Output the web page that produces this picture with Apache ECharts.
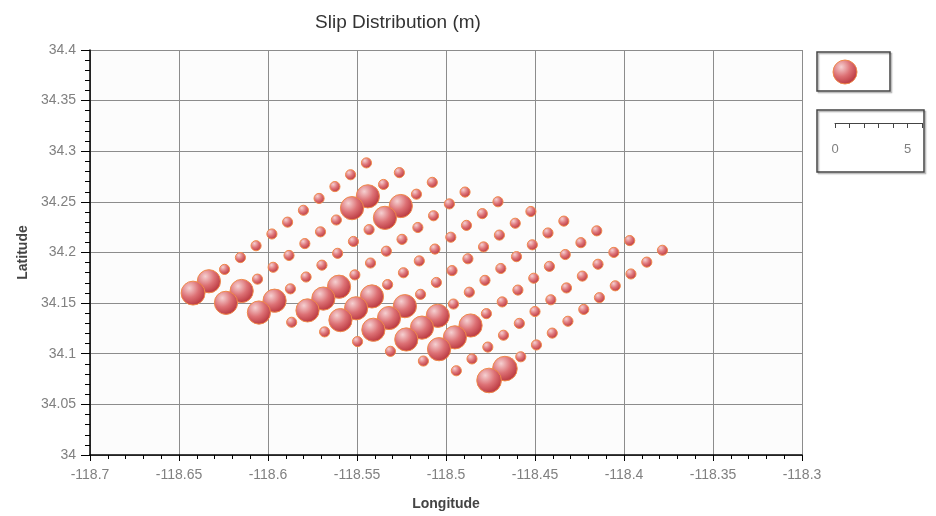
<!DOCTYPE html>
<html>
<head>
<meta charset="utf-8">
<title>Slip Distribution</title>
<script src="https://cdn.jsdelivr.net/npm/echarts@6/dist/echarts.min.js"></script>
</head>
<body style="margin:0">
<div id="main" style="width:936px;height:516px;"></div>
<script>
// axis ranges
var lonMin = -118.7, lonMax = -118.3, latMin = 34, latMax = 34.4, tickStep = 0.05;
var rulerTicks = [0, 5];

// fault patches, one row per down-dip step (12 patches along strike)
var lonRows = [
  [-118.6421, -118.6332, -118.6244, -118.6155, -118.6067, -118.5978, -118.5890, -118.5801, -118.5713, -118.5624, -118.5536, -118.5447],
  [-118.6236, -118.6148, -118.6059, -118.5971, -118.5882, -118.5793, -118.5705, -118.5616, -118.5528, -118.5439, -118.5351, -118.5262],
  [-118.6051, -118.5963, -118.5874, -118.5786, -118.5697, -118.5609, -118.5520, -118.5432, -118.5343, -118.5254, -118.5166, -118.5077],
  [-118.5867, -118.5778, -118.5689, -118.5601, -118.5512, -118.5424, -118.5335, -118.5247, -118.5158, -118.5070, -118.4981, -118.4893],
  [-118.5682, -118.5593, -118.5505, -118.5416, -118.5328, -118.5239, -118.5150, -118.5062, -118.4973, -118.4885, -118.4796, -118.4708],
  [-118.5497, -118.5408, -118.5320, -118.5231, -118.5143, -118.5054, -118.4966, -118.4877, -118.4789, -118.4700, -118.4611, -118.4523],
  [-118.5312, -118.5223, -118.5135, -118.5046, -118.4958, -118.4869, -118.4781, -118.4692, -118.4604, -118.4515, -118.4427, -118.4338],
  [-118.5127, -118.5039, -118.4950, -118.4862, -118.4773, -118.4684, -118.4596, -118.4507, -118.4419, -118.4330, -118.4242, -118.4153],
  [-118.4942, -118.4854, -118.4765, -118.4677, -118.4588, -118.4500, -118.4411, -118.4323, -118.4234, -118.4146, -118.4057, -118.3968],
  [-118.4758, -118.4669, -118.4580, -118.4492, -118.4403, -118.4315, -118.4226, -118.4138, -118.4049, -118.3961, -118.3872, -118.3784]
];
var latRows = [
  [34.1599, 34.1716, 34.1833, 34.1950, 34.2067, 34.2183, 34.2300, 34.2417, 34.2534, 34.2651, 34.2768, 34.2885],
  [34.1503, 34.1620, 34.1737, 34.1854, 34.1971, 34.2088, 34.2204, 34.2321, 34.2438, 34.2555, 34.2672, 34.2789],
  [34.1407, 34.1524, 34.1641, 34.1758, 34.1875, 34.1992, 34.2109, 34.2226, 34.2342, 34.2459, 34.2576, 34.2693],
  [34.1311, 34.1428, 34.1545, 34.1662, 34.1779, 34.1896, 34.2013, 34.2130, 34.2247, 34.2363, 34.2480, 34.2597],
  [34.1216, 34.1332, 34.1449, 34.1566, 34.1683, 34.1800, 34.1917, 34.2034, 34.2151, 34.2268, 34.2384, 34.2501],
  [34.1120, 34.1237, 34.1353, 34.1470, 34.1587, 34.1704, 34.1821, 34.1938, 34.2055, 34.2172, 34.2289, 34.2405],
  [34.1024, 34.1141, 34.1258, 34.1375, 34.1491, 34.1608, 34.1725, 34.1842, 34.1959, 34.2076, 34.2193, 34.2310],
  [34.0928, 34.1045, 34.1162, 34.1279, 34.1396, 34.1512, 34.1629, 34.1746, 34.1863, 34.1980, 34.2097, 34.2214],
  [34.0832, 34.0949, 34.1066, 34.1183, 34.1300, 34.1417, 34.1533, 34.1650, 34.1767, 34.1884, 34.2001, 34.2118],
  [34.0736, 34.0853, 34.0970, 34.1087, 34.1204, 34.1321, 34.1438, 34.1554, 34.1671, 34.1788, 34.1905, 34.2022]
];
var slipRows = [
  [1.65, 1.6, 0.7, 0.7, 0.7, 0.7, 0.7, 0.7, 0.7, 0.7, 0.7, 0.7],
  [1.6, 1.6, 0.7, 0.7, 0.7, 0.7, 0.7, 0.7, 1.6, 1.6, 0.7, 0.7],
  [1.6, 1.6, 0.7, 0.7, 0.7, 0.7, 0.7, 0.7, 1.6, 1.6, 0.7, 0.7],
  [0.7, 1.6, 1.6, 1.6, 0.7, 0.7, 0.7, 0.7, 0.7, 0.7, 0.7, 0.7],
  [0.7, 1.6, 1.6, 1.6, 0.7, 0.7, 0.7, 0.7, 0.7, 0.7, 0.7, 0.7],
  [0.7, 1.6, 1.6, 1.6, 0.7, 0.7, 0.7, 0.7, 0.7, 0.7, 0.7, 0.7],
  [0.7, 1.6, 1.6, 1.6, 0.7, 0.7, 0.7, 0.7, 0.7, 0.7, 0.7, 0.7],
  [0.7, 1.6, 1.6, 1.6, 0.7, 0.7, 0.7, 0.7, 0.7, 0.7, 0.7, 0.7],
  [0.7, 0.7, 0.7, 0.7, 0.7, 0.7, 0.7, 0.7, 0.7, 0.7, 0.7, 0.7],
  [1.7, 1.7, 0.7, 0.7, 0.7, 0.7, 0.7, 0.7, 0.7, 0.7, 0.7, 0.7]
];

var pxPerMetre = 14.5; // bubble diameter per metre of slip (same as ruler)

var data = [];
for (var j = 0; j < slipRows.length; j++) {
  for (var i = slipRows[j].length - 1; i >= 0; i--) {
    data.push([lonRows[j][i], latRows[j][i], slipRows[j][i]]);
  }
}

var ballFill = {
  type: 'radial', x: 0.35, y: 0.3, r: 0.75,
  colorStops: [
    { offset: 0, color: '#f5d0d1' },
    { offset: 0.5, color: '#dd7175' },
    { offset: 1, color: '#b7323a' }
  ]
};

var fmt = function (v) { return String(parseFloat(v.toFixed(2))); };

var myChart = echarts.init(document.getElementById('main'));
var option = {
  backgroundColor: '#ffffff',
  textStyle: { fontFamily: 'Liberation Sans, Arial, sans-serif' },
  title: {
    text: 'Slip Distribution (m)',
    left: 393, top: 8, textAlign: 'center',
    textStyle: { fontSize: 19, fontWeight: 'normal', color: '#333' }
  },
  grid: [
    { left: 90, top: 50, width: 712, height: 413, show: true, backgroundColor: '#fcfcfc', borderWidth: 0 },
    { left: 835, top: 122, width: 87, height: 1, show: false }
  ],
  xAxis: [{
    type: 'value', gridIndex: 0, min: lonMin, max: lonMax, interval: tickStep,
    name: 'Longitude', nameLocation: 'middle', nameGap: 42,
    nameTextStyle: { fontSize: 14, fontWeight: 'bold', color: '#444' },
    axisLine: { onZero: false, lineStyle: { color: '#000', width: 1.5 } },
    axisTick: { length: 6, lineStyle: { color: '#000' } },
    minorTick: { show: true, splitNumber: 5, length: 4, lineStyle: { color: '#000' } },
    splitLine: { lineStyle: { color: '#8c8c8c', width: 1 } },
    axisLabel: { fontSize: 14, color: '#808080', margin: 13, formatter: fmt, showMaxLabel: true, showMinLabel: true }
  }, {
    type: 'value', gridIndex: 1, min: 0, max: 6, interval: 1,
    axisLine: { onZero: false, lineStyle: { color: '#444', width: 1 } },
    axisTick: { length: 5, lineStyle: { color: '#444' } },
    splitLine: { show: false },
    axisLabel: {
      fontSize: 13, color: '#808080', margin: 20,
      formatter: function (v) { return rulerTicks.indexOf(v) >= 0 ? String(v) : ''; }
    }
  }],
  yAxis: [{
    type: 'value', gridIndex: 0, min: latMin, max: latMax, interval: tickStep,
    name: 'Latitude', nameLocation: 'middle', nameGap: 58,
    nameTextStyle: { fontSize: 14, fontWeight: 'bold', color: '#444' },
    axisLine: { show: true, onZero: false, lineStyle: { color: '#000', width: 1.5 } },
    axisTick: { show: true, length: 9, lineStyle: { color: '#000' } },
    minorTick: { show: true, splitNumber: 5, length: 5, lineStyle: { color: '#000' } },
    splitLine: { lineStyle: { color: '#8c8c8c', width: 1 } },
    axisLabel: { fontSize: 14, color: '#808080', margin: 14, formatter: fmt }
  }, {
    type: 'value', gridIndex: 1, min: 0, max: 1, show: false
  }],
  graphic: [
    { type: 'rect', shape: { x: 817, y: 52, width: 73, height: 39 },
      style: { fill: 'transparent', stroke: '#444', lineWidth: 1.5, shadowColor: 'rgba(0,0,0,0.3)', shadowOffsetX: 1.5, shadowOffsetY: 1.5, shadowBlur: 1 }, z: 1 },
    { type: 'circle', shape: { cx: 845, cy: 72, r: 12 },
      style: { fill: ballFill, stroke: '#f08a4b', lineWidth: 1 }, z: 2 },
    { type: 'rect', shape: { x: 817, y: 110, width: 107, height: 62 },
      style: { fill: 'transparent', stroke: '#444', lineWidth: 1.5, shadowColor: 'rgba(0,0,0,0.3)', shadowOffsetX: 1.5, shadowOffsetY: 1.5, shadowBlur: 1 }, z: 1 }
  ],
  series: [{
    type: 'scatter',
    xAxisIndex: 0, yAxisIndex: 0,
    data: data,
    symbolSize: function (v) { return v[2] * pxPerMetre; },
    itemStyle: { color: ballFill, borderColor: '#f08a4b', borderWidth: 1, opacity: 1 },
    z: 5
  }, {
    // empty series so the ruler grid gets drawn
    type: 'scatter', xAxisIndex: 1, yAxisIndex: 1, data: [], silent: true
  }]
};
myChart.setOption(option);
</script>
</body>
</html>
